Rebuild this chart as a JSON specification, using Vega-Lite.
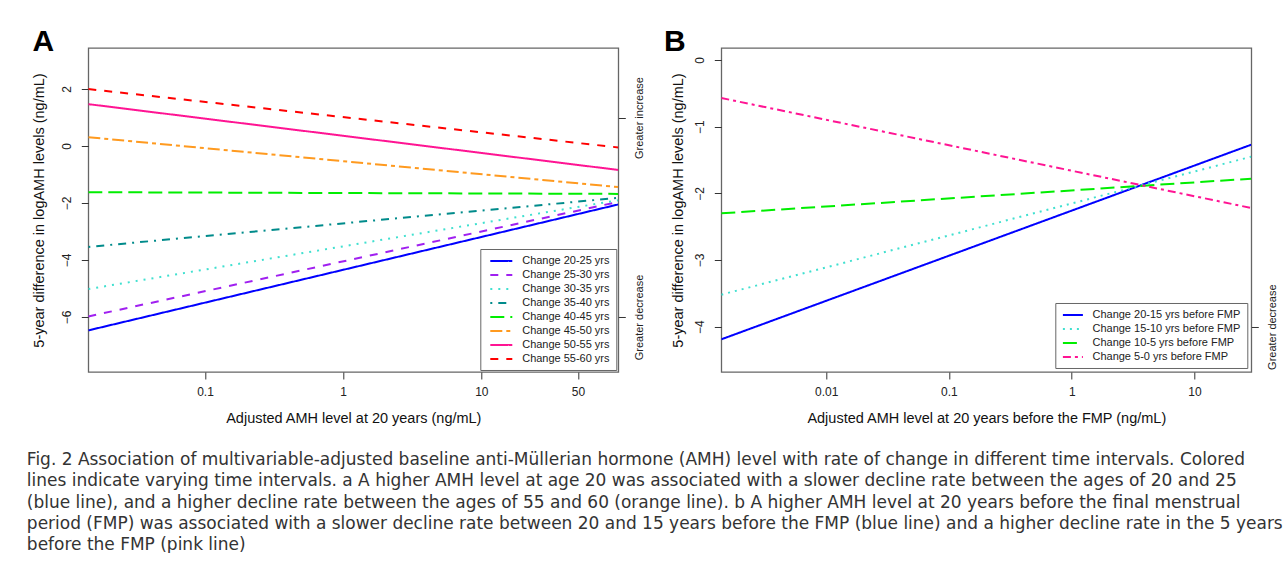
{
  "$schema": "https://vega.github.io/schema/vega-lite/v6.json",
  "background": "white",
  "padding": {"left": 26.3, "top": 26, "right": 0, "bottom": 0},
  "spacing": 18,
  "title": {
    "text": [
      "Fig. 2 Association of multivariable-adjusted baseline anti-Müllerian hormone (AMH) level with rate of change in different time intervals. Colored",
      "lines indicate varying time intervals. a A higher AMH level at age 20 was associated with a slower decline rate between the ages of 20 and 25",
      "(blue line), and a higher decline rate between the ages of 55 and 60 (orange line). b A higher AMH level at 20 years before the final menstrual",
      "period (FMP) was associated with a slower decline rate between 20 and 15 years before the FMP (blue line) and a higher decline rate in the 5 years",
      "before the FMP (pink line)"
    ],
    "orient": "bottom",
    "anchor": "start",
    "frame": "bounds",
    "font": "DejaVu Sans",
    "fontSize": 17,
    "fontWeight": "normal",
    "lineHeight": 21.2,
    "color": "#333",
    "offset": 26,
    "dx": -4.5
  },
  "datasets": {
    "a": [
      {"interval": "Change 20-25 yrs", "amh": 0.0143, "diff": -6.47},
      {"interval": "Change 20-25 yrs", "amh": 98, "diff": -2.05},
      {"interval": "Change 25-30 yrs", "amh": 0.0143, "diff": -5.98},
      {"interval": "Change 25-30 yrs", "amh": 98, "diff": -1.96},
      {"interval": "Change 30-35 yrs", "amh": 0.0143, "diff": -5.02},
      {"interval": "Change 30-35 yrs", "amh": 98, "diff": -1.9},
      {"interval": "Change 35-40 yrs", "amh": 0.0143, "diff": -3.54},
      {"interval": "Change 35-40 yrs", "amh": 98, "diff": -1.82},
      {"interval": "Change 40-45 yrs", "amh": 0.0143, "diff": -1.62},
      {"interval": "Change 40-45 yrs", "amh": 98, "diff": -1.68},
      {"interval": "Change 45-50 yrs", "amh": 0.0143, "diff": 0.31},
      {"interval": "Change 45-50 yrs", "amh": 98, "diff": -1.44},
      {"interval": "Change 50-55 yrs", "amh": 0.0143, "diff": 1.47},
      {"interval": "Change 50-55 yrs", "amh": 98, "diff": -0.84},
      {"interval": "Change 55-60 yrs", "amh": 0.0143, "diff": 2.0},
      {"interval": "Change 55-60 yrs", "amh": 98, "diff": -0.05}
    ],
    "b": [
      {"interval": "Change 20-15 yrs before FMP", "amh": 0.0014, "diff": -4.19},
      {"interval": "Change 20-15 yrs before FMP", "amh": 29, "diff": -1.27},
      {"interval": "Change 15-10 yrs before FMP", "amh": 0.0014, "diff": -3.52},
      {"interval": "Change 15-10 yrs before FMP", "amh": 29, "diff": -1.45},
      {"interval": "Change 10-5 yrs before FMP", "amh": 0.0014, "diff": -2.3},
      {"interval": "Change 10-5 yrs before FMP", "amh": 29, "diff": -1.78},
      {"interval": "Change 5-0 yrs before FMP", "amh": 0.0014, "diff": -0.57},
      {"interval": "Change 5-0 yrs before FMP", "amh": 29, "diff": -2.22}
    ],
    "a_side": [
      {"pos": 1, "label": "Greater increase"},
      {"pos": -6, "label": "Greater decrease"}
    ],
    "b_side": [
      {"pos": -4, "label": "Greater decrease"}
    ]
  },
  "hconcat": [
    {
      "width": 530,
      "height": 324,
      "title": {"text": "A", "anchor": "start", "frame": "bounds", "font": "Liberation Sans", "fontSize": 30, "fontWeight": "bold", "color": "#000", "offset": -9, "dx": 0.4},
      "data": {"name": "a"},
      "layer": [
        {
          "mark": {"type": "line", "strokeWidth": 2, "clip": true},
          "encoding": {
            "x": {"field": "amh", "type": "quantitative", "scale": {"type": "log", "domain": [0.0143, 98], "nice": false},
                  "axis": {"values": [0.1, 1, 10, 50], "format": "~g", "title": "Adjusted AMH level at 20 years (ng/mL)"}},
            "y": {"field": "diff", "type": "quantitative", "scale": {"domain": [-7.93, 3.44], "nice": false, "zero": false},
                  "axis": {"values": [-6, -4, -2, 0, 2], "title": "5-year difference in logAMH levels (ng/mL)", "labelAngle": -90, "labelAlign": "center", "labelBaseline": "bottom", "labelPadding": 8, "titlePadding": 13.3}},
            "color": {"field": "interval", "type": "nominal", "sort": null,
                      "scale": {"domain": ["Change 20-25 yrs", "Change 25-30 yrs", "Change 30-35 yrs", "Change 35-40 yrs", "Change 40-45 yrs", "Change 45-50 yrs", "Change 50-55 yrs", "Change 55-60 yrs"],
                                "range": ["#0000FF", "#A020F0", "#40E0D0", "#008B8B", "#00EE00", "#FF9A1F", "#FF1493", "#FF0000"]},
                      "legend": {"title": null, "orient": "bottom-right", "offset": 2, "symbolType": "M-2.2,0H2.2", "symbolOffset": 9, "labelOffset": 14.9}},
            "strokeDash": {"field": "interval", "type": "nominal", "sort": null,
                      "scale": {"domain": ["Change 20-25 yrs", "Change 25-30 yrs", "Change 30-35 yrs", "Change 35-40 yrs", "Change 40-45 yrs", "Change 45-50 yrs", "Change 50-55 yrs", "Change 55-60 yrs"],
                                "range": [[1, 0], [8, 8], [2, 6], [2, 6, 8, 6], [14, 6], [12, 4, 4, 4], [1, 0], [8, 8]]},
                      "legend": {"title": null, "orient": "bottom-right", "offset": 2, "symbolType": "M-2.2,0H2.2", "symbolOffset": 9, "labelOffset": 14.9}}
          }
        },
        {
          "data": {"name": "a_side"},
          "mark": {"type": "tick", "opacity": 0},
          "encoding": {
            "y": {"field": "pos", "type": "quantitative", "scale": {"domain": [-7.93, 3.44], "nice": false, "zero": false},
                  "axis": {"orient": "right", "values": [1, -6], "labelExpr": "datum.value > 0 ? 'Greater increase' : 'Greater decrease'", "labelAngle": -90, "labelAlign": "center", "labelBaseline": "top", "labelFontSize": 11, "labelPadding": 8, "title": null}}
          }
        }
      ],
      "resolve": {"scale": {"y": "independent"}}
    },
    {
      "width": 530,
      "height": 324,
      "title": {"text": "B", "anchor": "start", "frame": "bounds", "font": "Liberation Sans", "fontSize": 30, "fontWeight": "bold", "color": "#000", "offset": -9, "dx": -7},
      "data": {"name": "b"},
      "layer": [
        {
          "mark": {"type": "line", "strokeWidth": 2, "clip": true},
          "encoding": {
            "x": {"field": "amh", "type": "quantitative", "scale": {"type": "log", "domain": [0.0014, 29], "nice": false},
                  "axis": {"values": [0.01, 0.1, 1, 10], "format": "~g", "title": "Adjusted AMH level at 20 years before the FMP (ng/mL)"}},
            "y": {"field": "diff", "type": "quantitative", "scale": {"domain": [-4.68, 0.18], "nice": false, "zero": false},
                  "axis": {"values": [-4, -3, -2, -1, 0], "title": "5-year difference in logAMH levels (ng/mL)", "labelAngle": -90, "labelAlign": "center", "labelBaseline": "bottom", "labelPadding": 8, "titlePadding": 7.3}},
            "color": {"field": "interval", "type": "nominal", "sort": null,
                      "scale": {"domain": ["Change 20-15 yrs before FMP", "Change 15-10 yrs before FMP", "Change 10-5 yrs before FMP", "Change 5-0 yrs before FMP"],
                                "range": ["#0000FF", "#40E0D0", "#00EE00", "#FF1493"]},
                      "legend": {"title": null, "orient": "bottom-right", "offset": 4, "symbolType": "M-2,0H2", "symbolOffset": 5.6, "labelOffset": 13.6}},
            "strokeDash": {"field": "interval", "type": "nominal", "sort": null,
                      "scale": {"domain": ["Change 20-15 yrs before FMP", "Change 15-10 yrs before FMP", "Change 10-5 yrs before FMP", "Change 5-0 yrs before FMP"],
                                "range": [[1, 0], [2, 5], [14, 6], [8, 4, 3, 4]]},
                      "legend": {"title": null, "orient": "bottom-right", "offset": 4, "symbolType": "M-2,0H2", "symbolOffset": 5.6, "labelOffset": 13.6}}
          }
        },
        {
          "data": {"name": "b_side"},
          "mark": {"type": "tick", "opacity": 0},
          "encoding": {
            "y": {"field": "pos", "type": "quantitative", "scale": {"domain": [-4.68, 0.18], "nice": false, "zero": false},
                  "axis": {"orient": "right", "values": [-4], "labelExpr": "'Greater decrease'", "labelAngle": -90, "labelAlign": "center", "labelBaseline": "top", "labelFontSize": 11, "labelPadding": 8, "title": null}}
          }
        }
      ],
      "resolve": {"scale": {"y": "independent"}}
    }
  ],
  "resolve": {"scale": {"color": "independent", "strokeDash": "independent"}, "legend": {"color": "independent", "strokeDash": "independent"}},
  "config": {
    "font": "Liberation Sans",
    "view": {"stroke": "#666", "strokeWidth": 1.3},
    "axis": {"grid": false, "domain": false, "tickColor": "#333", "tickSize": 7, "tickWidth": 1, "labelFont": "Liberation Sans", "labelFontSize": 12, "labelColor": "#222", "titleFont": "Liberation Sans", "titleFontSize": 14.5, "titleFontWeight": "normal", "titleColor": "#111", "labelPadding": 8, "titlePadding": 14, "labelOverlap": false, "labelFlush": false},
    "legend": {"labelFont": "Liberation Sans", "labelFontSize": 11, "labelColor": "#222", "strokeColor": "#666", "fillColor": "white", "padding": 6, "rowPadding": 3, "symbolStrokeWidth": 2, "symbolSize": 100}
  }
}
